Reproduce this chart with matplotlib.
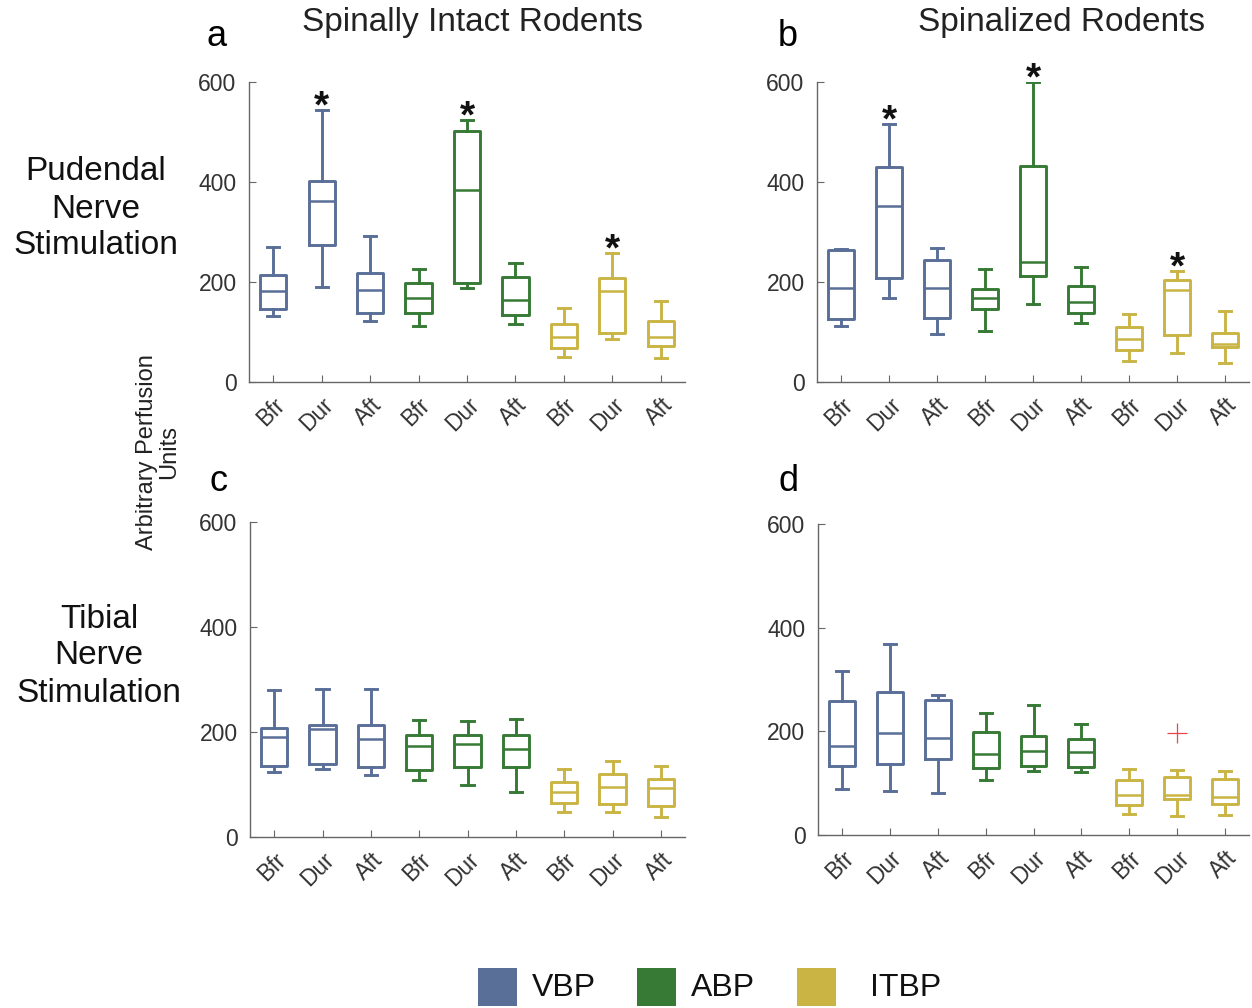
import matplotlib
matplotlib.use("Agg")
import matplotlib.pyplot as plt
from matplotlib.patches import Rectangle

plt.rcParams['font.family'] = ['Liberation Sans', 'DejaVu Sans']

categories = ["Bfr", "Dur", "Aft", "Bfr", "Dur", "Aft", "Bfr", "Dur", "Aft"]
groups = ["VBP", "VBP", "VBP", "ABP", "ABP", "ABP", "ITBP", "ITBP", "ITBP"]
colors = {"VBP": "#5a6f98", "ABP": "#367a36", "ITBP": "#c9b444"}

# each box: (whisker low, Q1, median, Q3, whisker high)
panel_a = [(133, 146, 182, 213, 269), (190, 274, 362, 402, 544), (122, 138, 184, 218, 292),
           (112, 138, 168, 198, 226), (187, 198, 384, 502, 523), (116, 134, 164, 210, 238),
           (51, 69, 91, 116, 148), (86, 98, 182, 207, 257), (48, 73, 90, 123, 161)]
panel_b = [(113, 126, 187, 263, 266), (167, 207, 352, 429, 516), (96, 128, 187, 244, 268),
           (102, 147, 167, 186, 226), (156, 211, 240, 432, 600), (118, 139, 160, 192, 230),
           (42, 65, 87, 110, 136), (59, 94, 183, 204, 221), (38, 70, 77, 99, 143)]
panel_c = [(124, 135, 191, 208, 280), (130, 140, 205, 213, 282), (118, 134, 186, 214, 282),
           (109, 127, 174, 194, 222), (99, 133, 178, 194, 221), (86, 133, 167, 195, 224),
           (48, 65, 85, 105, 130), (47, 63, 96, 120, 144), (39, 60, 93, 110, 135)]
panel_d = [(89, 133, 172, 258, 316), (85, 137, 197, 275, 368), (81, 146, 187, 261, 271),
           (106, 130, 156, 198, 235), (124, 133, 162, 191, 250), (121, 132, 160, 185, 215),
           (41, 57, 77, 106, 127), (37, 69, 78, 111, 126), (39, 59, 74, 109, 123)]
outliers_d = {8: [196]}

sig_a = [2, 5, 8]
sig_b = [2, 5, 8]

W, H = 1252, 1008
fig = plt.figure(figsize=(W / 100, H / 100), dpi=100)

def fr(x0, y0, x1, y1):
    return [x0 / W, 1 - y1 / H, (x1 - x0) / W, (y1 - y0) / H]

positions = {
    "a": fr(249, 82, 685, 382),
    "b": fr(817, 82, 1249, 382),
    "c": fr(250, 522, 685, 837),
    "d": fr(818, 524, 1249, 835),
}

def draw(ax, data, sig=(), outl=None):
    outl = outl or {}
    for i, (lo, q1, med, q3, hi) in enumerate(data):
        pos = i + 1
        c = colors[groups[i]]
        st = dict(whislo=lo, q1=q1, med=med, q3=q3, whishi=hi,
                  fliers=outl.get(pos, []))
        ax.bxp([st], positions=[pos], widths=0.54, capwidths=0.25, showfliers=True,
               boxprops=dict(color=c, lw=2.1),
               whiskerprops=dict(color=c, lw=2.1),
               capprops=dict(color=c, lw=2.1),
               medianprops=dict(color=c, lw=1.8),
               flierprops=dict(marker='+', markeredgecolor='#e8474b', markersize=14,
                               markeredgewidth=0.9, linestyle='none'))
        if pos in sig:
            ax.text(pos, hi - 14, '*', ha='center', va='baseline', fontsize=28,
                    fontweight='bold', color='#111111')
    ax.set_xlim(0.5, 9.5)
    ax.set_ylim(0, 600)
    ax.set_yticks([0, 200, 400, 600])
    ax.set_xticks(range(1, 10))
    ax.set_xticklabels(categories, rotation=45, ha='right', rotation_mode='anchor')
    for s in ['top', 'right']:
        ax.spines[s].set_visible(False)
    for s in ['left', 'bottom']:
        ax.spines[s].set_color('#666666')
        ax.spines[s].set_linewidth(1.0)
    ax.tick_params(axis='both', direction='in', length=5, color='#666666',
                   labelsize=16.5, labelcolor='#333333')
    ax.tick_params(axis='y', pad=9)
    ax.tick_params(axis='x', pad=8)
    ax.patch.set_alpha(0)

axa = fig.add_axes(positions["a"])
draw(axa, panel_a, sig_a)
axb = fig.add_axes(positions["b"])
draw(axb, panel_b, sig_b)
axc = fig.add_axes(positions["c"])
draw(axc, panel_c)
axd = fig.add_axes(positions["d"])
draw(axd, panel_d, outl=outliers_d)

def ft(x, y, s, **kw):
    fig.text(x / W, 1 - y / H, s, **kw)

ft(217, 36, "a", fontsize=26, ha='center', va='center')
ft(788, 36, "b", fontsize=26, ha='center', va='center')
ft(218, 481, "c", fontsize=26, ha='center', va='center')
ft(788, 481, "d", fontsize=26, ha='center', va='center')
ft(472, 23, "Spinally Intact Rodents", fontsize=24, ha='center', va='center', color='#222222')
ft(1062, 23, "Spinalized Rodents", fontsize=24, ha='center', va='center', color='#222222')
ft(96, 209, "Pudendal\nNerve\nStimulation", fontsize=24, ha='center', va='center',
   linespacing=1.25, color='#111111')
ft(99, 656, "Tibial\nNerve\nStimulation", fontsize=24, ha='center', va='center',
   linespacing=1.25, color='#111111')
ft(158, 452, "Arbitrary Perfusion\nUnits", fontsize=17, ha='center', va='center',
   rotation=90, linespacing=1.0, color='#222222')

legend_items = [("VBP", 478, 532), ("ABP", 637, 691), ("ITBP", 797, 870)]
for name, sx, tx in legend_items:
    fig.patches.append(Rectangle((sx / W, 1 - 1006 / H), 39 / W, 38 / H,
                                 transform=fig.transFigure, facecolor=colors[name],
                                 edgecolor='none'))
    ft(tx, 988, name, fontsize=23, ha='left', va='center', color='#111111')

fig.savefig("out.png", dpi=100)
